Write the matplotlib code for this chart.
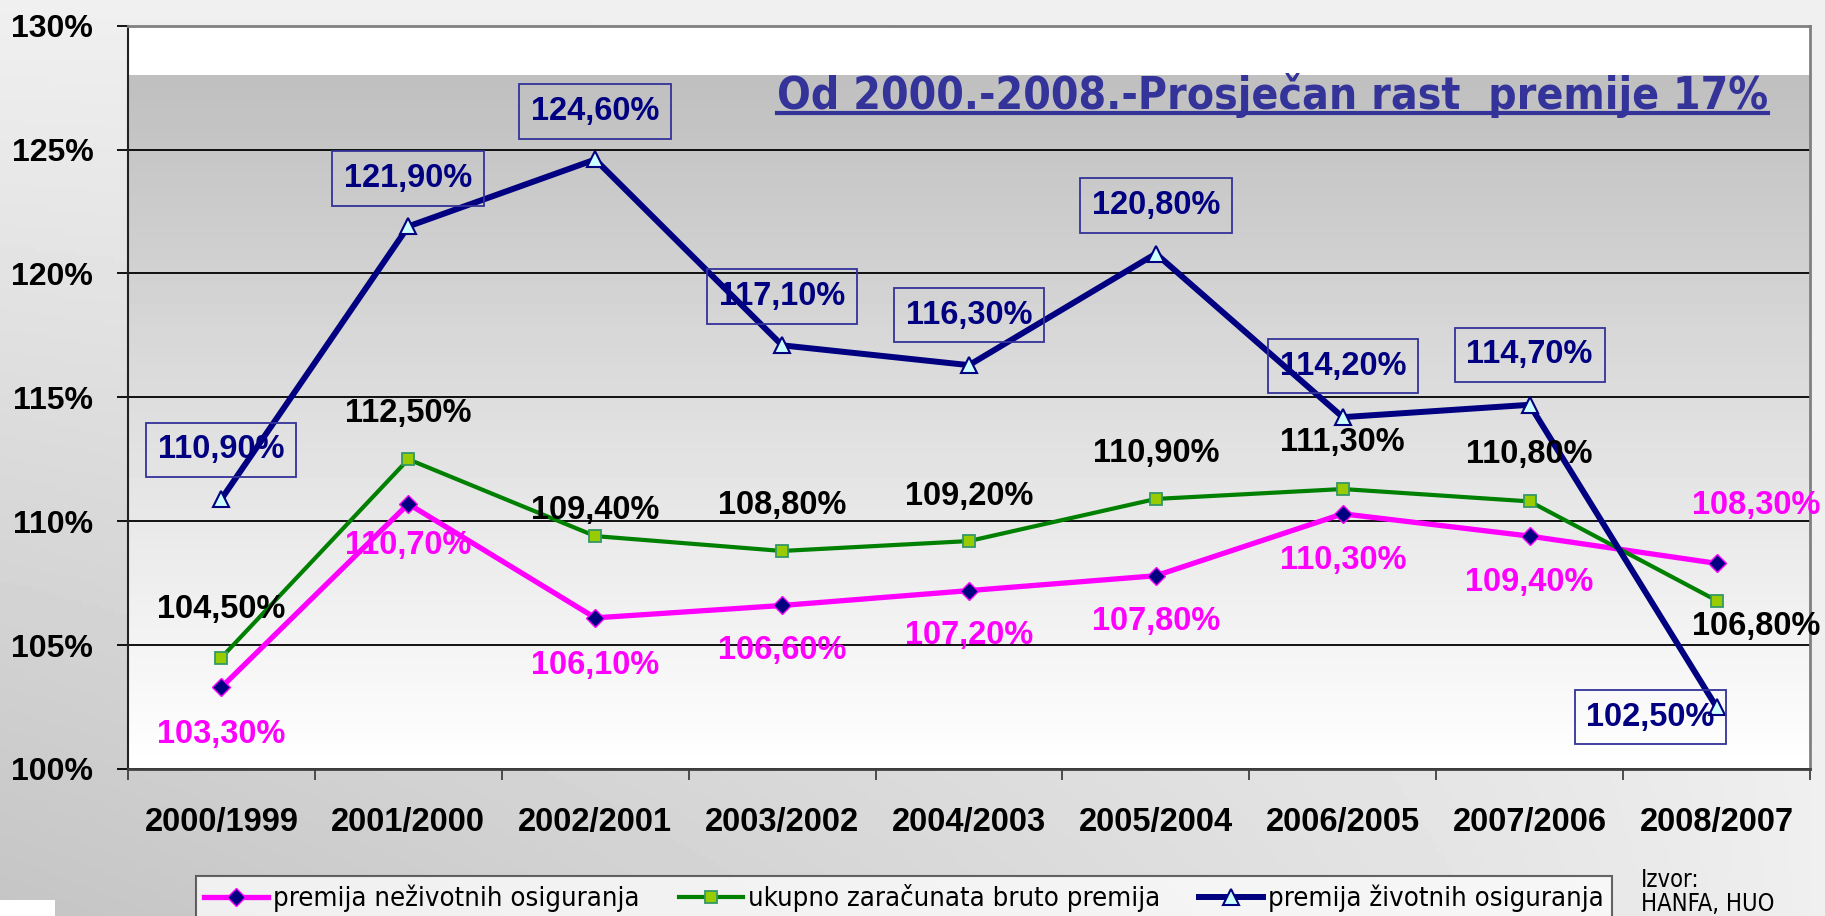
import numpy as np
import matplotlib
matplotlib.use("Agg")
import matplotlib.pyplot as plt
from matplotlib import font_manager
from matplotlib.font_manager import FontProperties
from matplotlib.lines import Line2D
from matplotlib.patches import Rectangle

# data
categories = ['2000/1999', '2001/2000', '2002/2001', '2003/2002', '2004/2003',
              '2005/2004', '2006/2005', '2007/2006', '2008/2007']
nezivot = [103.3, 110.7, 106.1, 106.6, 107.2, 107.8, 110.3, 109.4, 108.3]
ukupno = [104.5, 112.5, 109.4, 108.8, 109.2, 110.9, 111.3, 110.8, 106.8]
zivot = [110.9, 121.9, 124.6, 117.1, 116.3, 120.8, 114.2, 114.7, 102.5]
series_names = ['premija neživotnih osiguranja', 'ukupno zaračunata bruto premija',
                'premija životnih osiguranja']
yticks = [100, 105, 110, 115, 120, 125, 130]
title = 'Od 2000.-2008.-Prosječan rast  premije 17%'
source = 'Izvor:\nHANFA, HUO'

# label offsets in pixels (dx, dy)
pink_off = [(0, -47), (0, -42), (0, -48), (0, -45), (0, -45), (0, -46), (0, -47), (0, -46), (40, 58)]
green_off = [(0, 48), (0, 46), (0, 26), (0, 45), (0, 45), (0, 45), (0, 47), (0, 47), (40, -26)]
navy_off = [(0, 49), (0, 48), (0, 48), (0, 49), (0, 50), (0, 48), (0, 51), (0, 50), (-66, -10)]

plt.rcParams['font.family'] = ['Liberation Sans', 'DejaVu Sans']


def find_condensed(bold):
    # look for any installed narrow / condensed sans face
    best = None
    for f in font_manager.fontManager.ttflist:
        st = str(f.stretch).lower()
        nm = f.name.lower()
        cond = ('condensed' in st) or ('narrow' in nm) or ('condensed' in nm)
        if not cond or 'extra' in st or 'ultra' in st or f.style != 'normal':
            continue
        if 'mono' in nm or 'serif' in nm:
            continue
        w = f.weight
        if not isinstance(w, (int, float)):
            w = {'bold': 700, 'normal': 400, 'regular': 400, 'medium': 500}.get(str(w).lower(), 400)
        score = abs(w - (700 if bold else 400))
        score += 0 if 'liberation' in nm else 30
        score += 20 if 'semi' in st else 0
        if best is None or score < best[0]:
            best = (score, f.fname)
    return best[1] if best else None


cb = find_condensed(True)
cr = find_condensed(False)
fp_title = FontProperties(fname=cb) if cb else FontProperties(family='Liberation Sans', weight='bold')
fp_reg = FontProperties(fname=cr) if cr else FontProperties(family='Liberation Sans')

W, H = 1825, 916
fig = plt.figure(figsize=(W / 100, H / 100), dpi=100)
renderer = fig.canvas.get_renderer()


def fit_size(text, fp, target_px, start=30):
    tmp = fig.text(0, 0, text, fontproperties=fp, fontsize=start)
    w = tmp.get_window_extent(renderer).width
    tmp.remove()
    return start * target_px / w


# figure background gradient (darker bottom-left)
bg = fig.add_axes([0, 0, 1, 1], zorder=-10)
xx, yy = np.meshgrid(np.linspace(0, 1, 400), np.linspace(0, 1, 200))
shade = 0.94 - 0.17 * yy * (1 - xx) ** 0.8
bg.imshow(shade, extent=[0, 1, 0, 1], aspect='auto', cmap='gray', vmin=0, vmax=1, origin='upper')
bg.set_axis_off()
fig.add_artist(Rectangle((0, 0), 55 / W, 16 / H, transform=fig.transFigure,
                         facecolor='white', edgecolor='none', zorder=-5))

ax = fig.add_axes([128 / W, 1 - 769 / H, (1810 - 128) / W, (769 - 25.7) / H])
ax.set_facecolor('white')
x = np.arange(len(categories))
ax.set_xlim(-0.5, len(categories) - 0.5)
ax.set_ylim(100, 130)

# plot area gradient: grey at 128% fading to white at 100%
grad = np.linspace(0.75, 1.0, 200).reshape(-1, 1)
ax.imshow(grad, extent=[-0.5, len(categories) - 0.5, 100, 128], aspect='auto',
          cmap='gray', vmin=0, vmax=1, origin='upper', zorder=0)
ax.set_axisbelow(True)
ax.yaxis.grid(True, color='black', lw=1.3)

l1, = ax.plot(x, nezivot, color='#ff00ff', lw=3.8, marker='D', ms=9.5,
              mfc='#000080', mec='#ff00ff', mew=1.0, zorder=3)
l2, = ax.plot(x, ukupno, color='#008000', lw=3.0, marker='s', ms=8.5,
              mfc='#99cc00', mec='#339966', mew=1.3, zorder=4)
l3, = ax.plot(x, zivot, color='#000080', lw=4.3, marker='^', ms=11,
              mfc='#ccffff', mec='#000080', mew=1.5, zorder=5)


def fmt(v):
    return f"{v:.2f}".replace('.', ',') + '%'


PT = 0.72
for vals, offs, col in [(nezivot, pink_off, '#ff00ff'), (ukupno, green_off, 'black')]:
    for i, v in enumerate(vals):
        dx, dy = offs[i]
        ax.annotate(fmt(v), (x[i], v), xytext=(dx * PT, dy * PT), textcoords='offset points',
                    ha='center', va='center', fontsize=23.5, fontweight='bold',
                    color=col, annotation_clip=False, zorder=6)
for i, v in enumerate(zivot):
    dx, dy = navy_off[i]
    ax.annotate(fmt(v), (x[i], v), xytext=(dx * PT, dy * PT), textcoords='offset points',
                ha='center', va='center', fontsize=23.5, fontweight='bold',
                color='#000080', annotation_clip=False, zorder=6,
                bbox=dict(boxstyle='square,pad=0.36', fc='none', ec='#333399', lw=1.3))

# axes styling
for side in ['top', 'right']:
    ax.spines[side].set_color('#808080')
    ax.spines[side].set_linewidth(2)
ax.spines['left'].set_color('#222222')
ax.spines['left'].set_linewidth(1.5)
ax.spines['bottom'].set_color('#404040')
ax.spines['bottom'].set_linewidth(2)

ax.set_yticks(yticks)
ax.set_yticklabels([f"{t}%" for t in yticks], fontsize=23, fontweight='bold')
ax.tick_params(axis='y', direction='out', length=8, width=1.3, pad=17, color='black')

ax.set_xticks(x)
ax.set_xticklabels(categories, fontsize=23.5, fontweight='bold')
ax.set_xticks(np.arange(-0.5, len(categories)), minor=True)
ax.tick_params(axis='x', which='major', length=0, pad=27)
ax.tick_params(axis='x', which='minor', direction='out', length=8, width=1.3, color='#404040')

# title with underline, fitted to the reference width
tsize = min(fit_size(title, fp_title, 990), 44)
t = ax.text(0.975, 0.888, title, transform=ax.transAxes, ha='right', va='baseline',
            fontproperties=fp_title, fontsize=tsize, color='#333399', zorder=7)

# legend
lsize = min(fit_size(series_names[0], fp_reg, 364), 25)
lpx = lsize * 100 / 72
leg_prop = fp_reg.copy()
leg_prop.set_size(lsize)
leg = fig.legend([l1, l2, l3], series_names, loc='upper left',
                 bbox_to_anchor=(196 / W, -0.2, (1612 - 196) / W, 0.2 + 1 - 876 / H),
                 mode='expand', ncol=3, frameon=True, fancybox=False, prop=leg_prop,
                 handlelength=64 / lpx, handletextpad=5 / lpx, borderaxespad=0,
                 borderpad=0.3)
leg.get_frame().set_edgecolor('#404040')
leg.get_frame().set_linewidth(1.5)
leg.get_frame().set_facecolor('#fbfbfb')

# source note, kept inside the canvas
ssize = min(fit_size('HANFA, HUO', fp_reg, 140), 17)
fig.text(1641 / W, 1 - 868 / H, source, ha='left', va='top',
         fontproperties=fp_reg, fontsize=ssize, linespacing=1.0)

fig.canvas.draw()
bb = t.get_window_extent(renderer)
uy = 1 - 113 / H
fig.add_artist(Line2D([bb.x0 / W, bb.x1 / W], [uy, uy], transform=fig.transFigure,
                      color='#333399', lw=3, zorder=8))

fig.savefig('out.png', dpi=100)
